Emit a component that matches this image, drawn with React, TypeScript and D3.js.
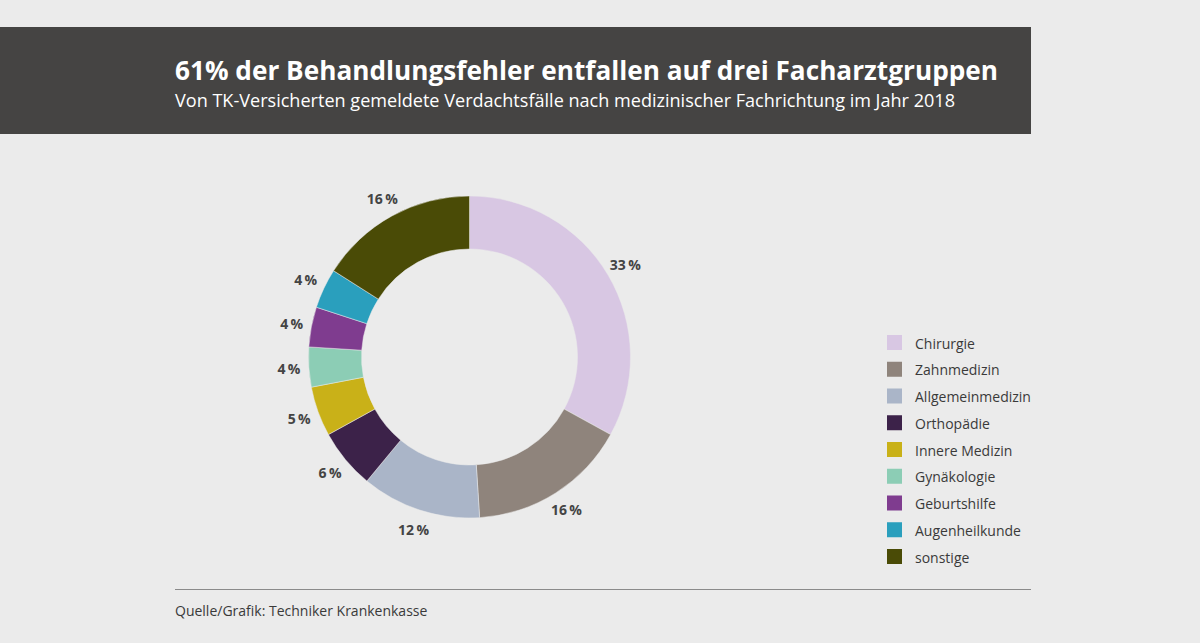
import React from "react";
import * as d3 from "d3";

const categories = ["Chirurgie", "Zahnmedizin", "Allgemeinmedizin", "Orthopädie", "Innere Medizin", "Gynäkologie", "Geburtshilfe", "Augenheilkunde", "sonstige"];
const values = [33, 16, 12, 6, 5, 4, 4, 4, 16];
const colors = ["#d8c7e3", "#8f847c", "#aab5c8", "#3c2249", "#c9b118", "#8ccdb5", "#7f3c8f", "#2a9fbd", "#4a4b06"];

const title = "61% der Behandlungsfehler entfallen auf drei Facharztgruppen";
const subtitle = "Von TK-Versicherten gemeldete Verdachtsfälle nach medizinischer Fachrichtung im Jahr 2018";
const source = "Quelle/Grafik: Techniker Krankenkasse";

export default function App() {
  const W = 1200, H = 643;
  const cx = 469.5, cy = 357;
  const outerR = 161, innerR = 108;
  const data = categories.map((c, i) => ({ c, v: values[i], col: colors[i] }));
  const pie = d3.pie<any>().value((d: any) => d.v).sort(null);
  const arcs = pie(data);
  const arc = d3.arc<any>().innerRadius(innerR).outerRadius(outerR);
  const labelArc = d3.arc<any>().innerRadius(181).outerRadius(181);
  const font = "'Open Sans', 'DejaVu Sans', sans-serif";
  return (
    <svg width={W} height={H} style={{ position: "absolute", top: 0, left: 0, background: "#ebebeb" }} fontFamily={font}>
      <rect x={0} y={0} width={W} height={H} fill="#ebebeb" />
      <rect x={0} y={27} width={1031} height={107} fill="#454443" />
      <text x={175} y={80} fill="#ffffff" fontSize={27.5} fontWeight={700} textLength={823} lengthAdjust="spacingAndGlyphs">{title}</text>
      <text x={175} y={107} fill="#ffffff" fontSize={17.5} textLength={780} lengthAdjust="spacingAndGlyphs">{subtitle}</text>
      <g transform={`translate(${cx},${cy})`}>
        {arcs.map((a, i) => (
          <path key={i} d={arc(a) as string} fill={a.data.col} stroke="#ebebeb" strokeWidth={0.5} />
        ))}
        {arcs.map((a, i) => {
          const [x, y] = labelArc.centroid(a);
          return (
            <text key={"l" + i} x={x} y={y} textAnchor="middle" dominantBaseline="central" fontSize={14} fontWeight={700} fill="#444">
              {a.data.v + "\u2009%"}
            </text>
          );
        })}
      </g>
      {data.map((d, i) => (
        <g key={"lg" + i} transform={`translate(887,${335 + i * 26.75})`}>
          <rect x={0} y={0} width={15} height={15} fill={d.col} />
          <text x={28} y={8} dominantBaseline="central" fontSize={14} fill="#3a3a3a">{d.c}</text>
        </g>
      ))}
      <line x1={175} x2={1031} y1={589.5} y2={589.5} stroke="#8a8a8a" strokeWidth={1} />
      <text x={175} y={616} fontSize={14} fill="#3a3a3a">{source}</text>
    </svg>
  );
}
